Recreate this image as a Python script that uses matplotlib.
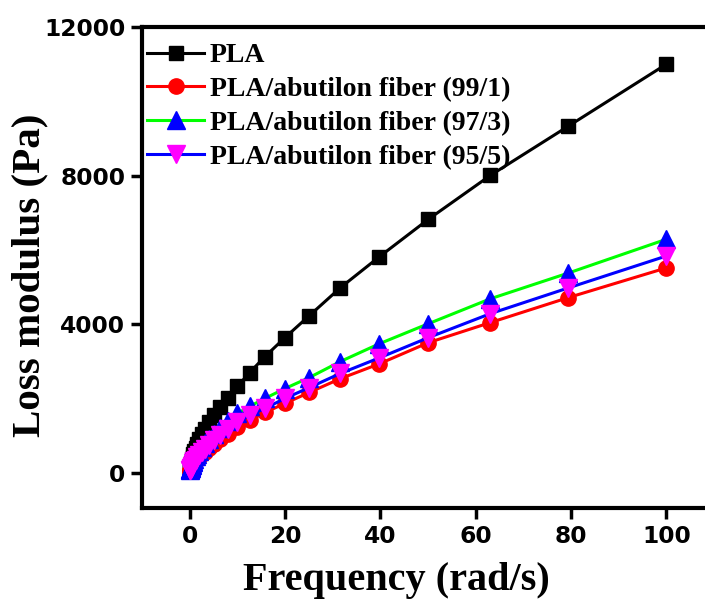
import matplotlib
matplotlib.use("Agg")
import matplotlib.pyplot as plt

# Frequency (rad/s)
freq = [0.1, 0.126, 0.158, 0.2, 0.251, 0.316, 0.398, 0.501, 0.631, 0.794,
        1.0, 1.26, 1.58, 2.0, 2.51, 3.16, 3.98, 5.01, 6.31, 7.94,
        10.0, 12.6, 15.8, 20.0, 25.1, 31.6, 39.8, 50.1, 63.1, 79.4, 100.0]

pla = [128, 150, 175, 205, 240, 280, 325, 380, 440, 510,
       590, 680, 785, 905, 1040, 1190, 1370, 1560, 1780, 2020,
       2330, 2705, 3135, 3645, 4235, 4985, 5820, 6830, 8010, 9330, 11000]

pla_99_1 = [62, 72, 83, 96, 111, 129, 150, 175, 203, 236,
            274, 318, 370, 430, 500, 580, 675, 785, 910, 1060,
            1230, 1420, 1630, 1875, 2170, 2540, 2940, 3510, 4050, 4720, 5520]

pla_97_3 = [90, 104, 121, 140, 162, 187, 217, 251, 291, 337,
            390, 450, 520, 600, 695, 800, 920, 1060, 1220, 1400,
            1605, 1795, 2010, 2275, 2570, 3000, 3480, 4020, 4690, 5380, 6290]

pla_95_5 = [70, 82, 95, 110, 128, 148, 172, 200, 232, 269,
            312, 362, 420, 487, 565, 655, 760, 880, 1020, 1180,
            1365, 1555, 1740, 2010, 2300, 2680, 3100, 3645, 4290, 4980, 5840]

labels = ["PLA", "PLA/abutilon fiber (99/1)", "PLA/abutilon fiber (97/3)",
          "PLA/abutilon fiber (95/5)"]
x_ticks = [0, 20, 40, 60, 80, 100]
y_ticks = [0, 4000, 8000, 12000]

fig = plt.figure(figsize=(7.05, 6.03), dpi=100)
ax = fig.add_axes([0.2014, 0.1575, 0.8114, 0.7977])

lw = 2.2
ax.plot(freq, pla, color="black", marker="s", ms=9.5, lw=lw,
        mec="black", mfc="black", label=labels[0])
ax.plot(freq, pla_99_1, color="red", marker="o", ms=11, lw=lw,
        mec="red", mfc="red", label=labels[1])
ax.plot(freq, pla_97_3, color="#00ff00", marker="^", ms=12.5, lw=lw,
        mec="blue", mfc="blue", label=labels[2])
ax.plot(freq, pla_95_5, color="blue", marker="v", ms=12.5, lw=lw,
        mec="magenta", mfc="magenta", label=labels[3])

ax.set_xlim(-10, 110)
ax.set_ylim(-940, 12000)
ax.set_xticks(x_ticks)
ax.set_yticks(y_ticks)

for s in ax.spines.values():
    s.set_linewidth(3)
ax.tick_params(direction="out", length=8, width=2.5, pad=4)
for t in ax.get_xticklabels() + ax.get_yticklabels():
    t.set_fontfamily("DejaVu Sans")
    t.set_fontweight("bold")
    t.set_fontsize(16.8)

ax.set_xlabel("Frequency (rad/s)", fontfamily="Liberation Serif",
              fontweight="bold", fontsize=29, labelpad=9)
ax.xaxis.set_label_coords(0.444, -0.112)
ax.set_ylabel("Loss modulus (Pa)", fontfamily="Liberation Serif",
              fontweight="bold", fontsize=29.5, labelpad=4)
ax.yaxis.set_label_coords(-0.164, 0.484)

leg = ax.legend(loc="upper left", bbox_to_anchor=(-0.010, 0.99), frameon=False,
                prop={"family": "Liberation Serif", "weight": "bold", "size": 20},
                handlelength=2.05, handletextpad=0.2, labelspacing=0.3,
                borderaxespad=0.2, borderpad=0.2)

fig.savefig("out.png", dpi=100)
